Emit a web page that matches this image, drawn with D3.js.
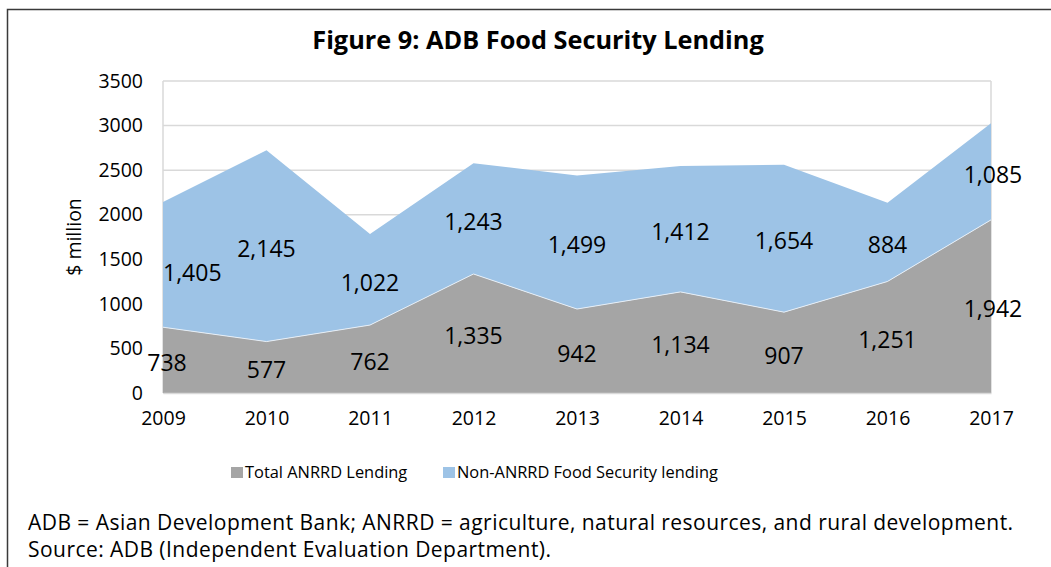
<!DOCTYPE html>
<html><head><meta charset="utf-8">
<script src="https://cdn.jsdelivr.net/npm/d3@7"></script>
<style>
html,body{margin:0;padding:0;background:#fff;}
svg{display:block;font-family:"Open Sans","Noto Sans",sans-serif;}
</style></head>
<body>
<svg id="chart" width="1051" height="567"></svg>
<script>
const years = ["2009","2010","2011","2012","2013","2014","2015","2016","2017"];
const anrrd = [738, 577, 762, 1335, 942, 1134, 907, 1251, 1942];
const nonAnrrd = [1405, 2145, 1022, 1243, 1499, 1412, 1654, 884, 1085];
const yTicks = [0, 500, 1000, 1500, 2000, 2500, 3000, 3500];
const seriesNames = ["Total ANRRD Lending", "Non-ANRRD Food Security lending"];
const colors = ["#a5a5a5", "#9dc3e6"];
const titleText = "Figure 9: ADB Food Security Lending";
const yTitle = "$ million";
const notes = ["ADB = Asian Development Bank; ANRRD = agriculture, natural resources, and rural development.",
               "Source: ADB (Independent Evaluation Department)."];

const svg = d3.select("#chart");
const L = 163, R = 991, T = 81, B = 393;
const x = d3.scalePoint().domain(years).range([L, R]);
const y = d3.scaleLinear().domain([0, 3500]).range([B, T]);

// outer frame
svg.append("path").attr("d", `M7.5,567 V9.5 H1051`).attr("fill","none").attr("stroke","#3a3a3a").attr("stroke-width",1.5);

// title
svg.append("text").attr("x", 538).attr("y", 49).attr("text-anchor","middle")
  .attr("font-size", 25.3).attr("font-weight","bold").attr("fill","#000").text(titleText);

// gridlines
svg.append("g").selectAll("line").data(yTicks).join("line")
  .attr("x1", L).attr("x2", R).attr("y1", d=>y(d)).attr("y2", d=>y(d))
  .attr("stroke","#d9d9d9").attr("stroke-width",1.5);
svg.append("line").attr("x1",R).attr("x2",R).attr("y1",T).attr("y2",B).attr("stroke","#d9d9d9").attr("stroke-width",1.5);
svg.append("line").attr("x1",L).attr("x2",L).attr("y1",T).attr("y2",B).attr("stroke","#d9d9d9").attr("stroke-width",1.5);

const data = years.map((yr,i)=>({yr, a: anrrd[i], b: nonAnrrd[i]}));
const stack = d3.stack().keys(["a","b"])(data);

const area = d3.area().x(d=>x(d.data.yr)).y0(d=>y(d[0])).y1(d=>y(d[1]));
svg.append("g").selectAll("path").data(stack).join("path")
  .attr("d", area).attr("fill", (d,i)=>colors[i]);
// thin boundary
svg.append("path").datum(stack[0])
  .attr("d", d3.line().x(d=>x(d.data.yr)).y(d=>y(d[1])))
  .attr("fill","none").attr("stroke","#e6eef6").attr("stroke-width",1);

// y axis labels
const yAxis = d3.axisLeft(y).tickValues(yTicks).tickSize(0).tickPadding(20).tickFormat(d3.format("d"));
const ya = svg.append("g").attr("transform",`translate(${L},0)`).call(yAxis)
  .attr("font-family", null).attr("font-size", null);
ya.select(".domain").remove();
ya.selectAll("text").attr("font-size",19.5).attr("fill","#000");

const xAxis = d3.axisBottom(x).tickSize(0).tickPadding(18);
const xa = svg.append("g").attr("transform",`translate(0,${B})`).call(xAxis)
  .attr("font-family", null).attr("font-size", null);
xa.select(".domain").attr("stroke","#d9d9d9").attr("stroke-width",1.5);
xa.selectAll("text").attr("font-size",19.5).attr("fill","#000");

// y title
svg.append("text").attr("transform","translate(81,237) rotate(-90)").attr("text-anchor","middle")
  .attr("font-size",19.5).text(yTitle);

// data labels
const fmt = d3.format(",");
stack.forEach((s, si) => {
  svg.append("g").selectAll("text").data(s).join("text")
    .attr("x", (d,i) => {
      const px = x(d.data.yr);
      if (i === 0) return si === 1 ? px : px + 4;
      if (i === s.length-1) return px + 2;
      return px;
    })
    .attr("y", (d,i) => y((d[0]+d[1])/2) + (i===0 && si===1 ? 7 : 2))
    .attr("text-anchor", (d,i) => (i===0 && si===1) ? "start" : "middle")
    .attr("dominant-baseline","central")
    .attr("font-size",23).attr("fill","#000")
    .text(d => fmt(d[1]-d[0]));
});

// legend
const leg = [{x:231, i:0},{x:443, i:1}];
leg.forEach(l=>{
  svg.append("rect").attr("x",l.x).attr("y",467).attr("width",12).attr("height",11).attr("fill",colors[l.i]);
  svg.append("text").attr("x",l.x+14).attr("y",478).attr("font-size",16.4).text(seriesNames[l.i]);
});

// notes
notes.forEach((n,i)=>{
  svg.append("text").attr("x",28).attr("y",530+i*27).attr("font-size",21)
    .attr("letter-spacing",0.45).text(n);
});
</script>
</body></html>
